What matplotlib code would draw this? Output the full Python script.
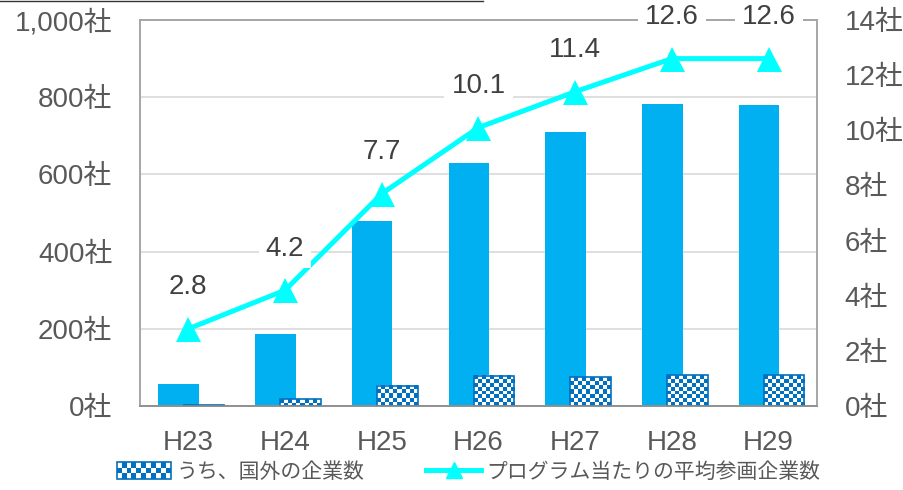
import numpy as np
import matplotlib.pyplot as plt
from matplotlib.colors import ListedColormap
from matplotlib.legend_handler import HandlerBase
from matplotlib.patches import Rectangle
from matplotlib.lines import Line2D

plt.rcParams['font.family'] = ['Liberation Sans', 'Noto Sans CJK JP', 'DejaVu Sans']

years = ["H23", "H24", "H25", "H26", "H27", "H28", "H29"]
companies = [57, 186, 480, 630, 710, 782, 780]
overseas = [2, 18, 52, 78, 75, 80, 80]
avg_per_program = [2.8, 4.2, 7.7, 10.1, 11.4, 12.6, 12.6]

left_ticks = [0, 200, 400, 600, 800, 1000]
left_labels = ["0社", "200社", "400社", "600社", "800社", "1,000社"]
right_ticks = [0, 2, 4, 6, 8, 10, 12, 14]
right_labels = ["0社", "2社", "4社", "6社", "8社", "10社", "12社", "14社"]

overseas_name = "うち、国外の企業数"
avg_name = "プログラム当たりの平均参画企業数"

TEXT = '#595959'
BLUE = '#00B0F0'
DARK = '#0070C0'
CYAN = '#00FFFF'
FRAME = '#a6a6a6'
GRID = '#d9d9d9'
CELL = 4.0  # checker cell size in pixels


class CheckerHandler(HandlerBase):
    # legend key drawn as a small blue/white checkerboard
    def create_artists(self, legend, orig_handle, xdescent, ydescent,
                       width, height, fontsize, trans):
        arts = []
        nx, ny = 11, 3
        cw, ch = width / nx, height / ny
        for i in range(nx):
            for j in range(ny):
                c = DARK if (i + j) % 2 else 'white'
                arts.append(Rectangle((-xdescent + i * cw, -ydescent + j * ch), cw, ch,
                                      facecolor=c, edgecolor='none', transform=trans))
        arts.append(Rectangle((-xdescent, -ydescent), width, height, facecolor='none',
                              edgecolor=DARK, lw=1.2, transform=trans))
        return arts


fig = plt.figure(figsize=(9.04, 4.9), dpi=100)
ax = fig.add_axes([140 / 904, 1 - 406 / 490, 677 / 904, 386 / 490])
ax2 = ax.twinx()

x = np.arange(len(years))
ax.set_xlim(-0.5, len(years) - 0.5)
ax.set_ylim(0, 1000)
ax2.set_ylim(0, 14)

ax.bar(x - 0.1, companies, width=0.42, color=BLUE, zorder=2)
pat = ax.bar(x + 0.16, overseas, width=0.42, facecolor='none', edgecolor=DARK,
             linewidth=1.2, zorder=4)

# fill the overseas bars with a checkerboard
cmap = ListedColormap(['white', DARK])
px_x = ax.transData.transform((1, 0))[0] - ax.transData.transform((0, 0))[0]
px_y = ax.transData.transform((0, 1))[1] - ax.transData.transform((0, 0))[1]
for r in pat:
    x0, w, h = r.get_x(), r.get_width(), r.get_height()
    nx = max(1, int(round(w * px_x / CELL)))
    ny = max(1, int(round(h * px_y / CELL)))
    board = np.indices((ny, nx)).sum(axis=0) % 2
    ax.imshow(board, cmap=cmap, extent=(x0, x0 + w, 0, h), aspect='auto',
              interpolation='nearest', origin='lower', zorder=3)

ax.set_xlim(-0.5, len(years) - 0.5)
ax.set_ylim(0, 1000)

line, = ax2.plot(x, avg_per_program, color=CYAN, lw=3.6, marker='^', ms=18,
                 markeredgewidth=0, zorder=5)
for xi, v in zip(x, avg_per_program):
    ax2.annotate(f"{v:.1f}", (xi, v), xytext=(0, 30), textcoords='offset points',
                 ha='center', va='center', fontsize=20, color='#404040', zorder=6,
                 bbox=dict(boxstyle='square,pad=0.25', fc='white', ec='none'))

ax.set_xticks(x)
ax.set_xticklabels(years)
ax.set_yticks(left_ticks)
ax.set_yticklabels(left_labels)
ax2.set_yticks(right_ticks)
ax2.set_yticklabels(right_labels)

ax.tick_params(axis='x', length=0, pad=17, labelsize=20, labelcolor=TEXT)
ax.tick_params(axis='y', length=0, pad=20, labelsize=20, labelcolor=TEXT)
ax2.tick_params(axis='y', length=0, pad=20, labelsize=20, labelcolor=TEXT)

ax.set_axisbelow(True)
ax.grid(axis='y', color=GRID, lw=1.2)
for a in (ax, ax2):
    for s in a.spines.values():
        s.set_color(FRAME)
        s.set_linewidth(1.2)
ax2.spines['bottom'].set_color('#8c8c8c')

fig.legend([Rectangle((0, 0), 1, 1), Line2D([], [], color=CYAN, lw=3.6, marker='^', ms=12)],
           [overseas_name, avg_name], handler_map={Rectangle: CheckerHandler()},
           loc='center', bbox_to_anchor=(0.518, 0.037), ncol=2, frameon=False,
           fontsize=15, labelcolor=TEXT, handlelength=2.6, handleheight=0.9,
           handletextpad=0.25, columnspacing=3.0)

fig.add_artist(Line2D([0, 483 / 904], [1 - 1.5 / 490, 1 - 1.5 / 490], color='#333333', lw=1.0))

fig.savefig('out.png', dpi=100)
